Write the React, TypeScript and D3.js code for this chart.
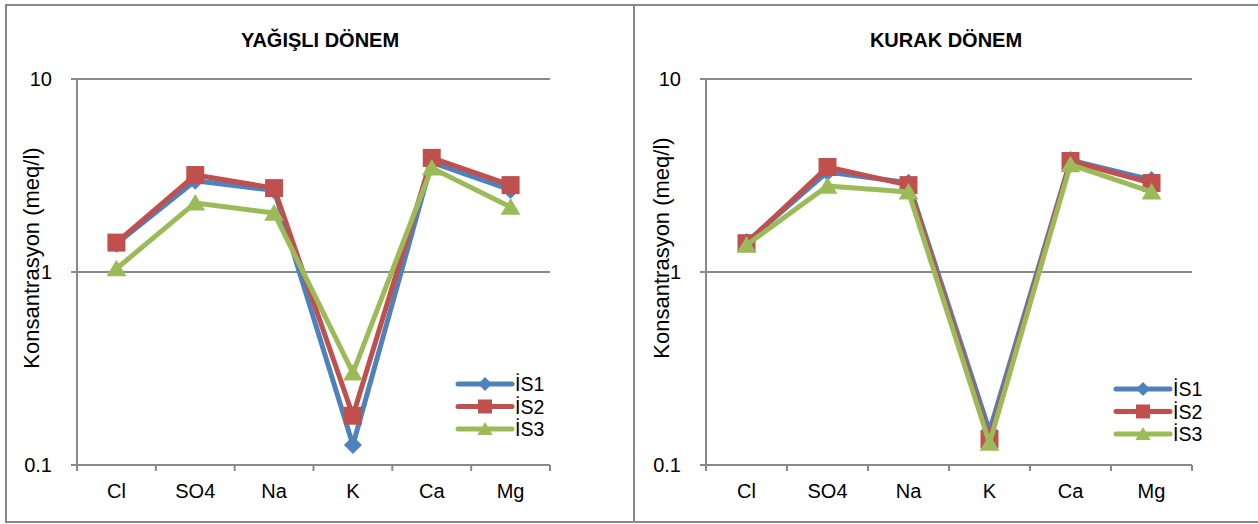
import React from 'react';
import * as d3 from 'd3';

const categories = ["Cl", "SO4", "Na", "K", "Ca", "Mg"];
const seriesNames = ["İS1", "İS2", "İS3"];
const seriesColors = ["#4F81BD", "#C0504D", "#9BBB59"];
const yTicks = [0.1, 1, 10];
const yTickLabels = ["0.1", "1", "10"];

// yağışlı dönem
const wetIS1 = [1.40, 2.97, 2.65, 0.127, 3.70, 2.66];
const wetIS2 = [1.42, 3.18, 2.72, 0.18, 3.90, 2.82];
const wetIS3 = [1.04, 2.28, 2.02, 0.30, 3.46, 2.17];

// kurak dönem
const dryIS1 = [1.43, 3.30, 2.90, 0.15, 3.80, 3.00];
const dryIS2 = [1.41, 3.50, 2.82, 0.136, 3.76, 2.89];
const dryIS3 = [1.38, 2.79, 2.60, 0.13, 3.60, 2.60];

const FONT = "'Liberation Sans', Arial, sans-serif";
const GRAY = "#898989";

function marker(kind, r) {
  if (kind === 0) return `M0,${-r}L${r},0L0,${r}L${-r},0Z`;
  if (kind === 1) return `M${-r},${-r}H${r}V${r}H${-r}Z`;
  return `M0,${-r}L${r * 1.1},${r * 0.85}L${-r * 1.1},${r * 0.85}Z`;
}

function Panel({ title, series, box, plot, titleX, yLabel, legend }) {
  const y = d3.scaleLog().domain([0.1, 10]).range([465, 79]);
  const x = d3.scaleBand().domain(categories).range([plot.left, plot.right]);
  const line = d3.line()
    .x((d, i) => x(categories[i]) + x.bandwidth() / 2)
    .y(d => y(d));
  const edges = d3.range(categories.length + 1).map(i => plot.left + i * x.bandwidth());

  return (
    <g>
      <rect x={box.x0} y={5} width={box.x1 - box.x0} height={517} fill="white" stroke={GRAY} strokeWidth={2} />
      <text x={titleX} y={47} textAnchor="middle" fontFamily={FONT} fontWeight="bold" fontSize={20}>{title}</text>

      {yTicks.map((t, i) => (
        <g key={i}>
          <line x1={plot.left - 6} x2={plot.right} y1={y(t)} y2={y(t)} stroke={GRAY} strokeWidth={2} />
          <text x={plot.left - 25} y={y(t)} dy="0.36em" textAnchor="end" fontFamily={FONT} fontSize={20}>{yTickLabels[i]}</text>
        </g>
      ))}
      <line x1={plot.left} x2={plot.left} y1={79} y2={465} stroke={GRAY} strokeWidth={2} />
      {edges.map((e, i) => (
        <line key={i} x1={e} x2={e} y1={465} y2={471} stroke={GRAY} strokeWidth={2} />
      ))}
      {categories.map(c => (
        <text key={c} x={x(c) + x.bandwidth() / 2} y={498} textAnchor="middle" fontFamily={FONT} fontSize={20}>{c}</text>
      ))}
      <text transform={`translate(${yLabel.x},${yLabel.y}) rotate(-90)`} textAnchor="middle" dy="0.35em"
        fontFamily={FONT} fontSize={22}>Konsantrasyon (meq/l)</text>

      {series.map((s, k) => (
        <g key={k}>
          <path d={line(s)} fill="none" stroke={seriesColors[k]} strokeWidth={5} strokeLinejoin="round" />
          {s.map((v, i) => (
            <path key={i} d={marker(k, 9)} fill={seriesColors[k]}
              transform={`translate(${x(categories[i]) + x.bandwidth() / 2},${y(v)})`} />
          ))}
        </g>
      ))}

      {seriesNames.map((n, k) => {
        const ly = legend.y + k * 22.5;
        return (
          <g key={n}>
            <line x1={legend.x} x2={legend.x + 54} y1={ly} y2={ly} stroke={seriesColors[k]} strokeWidth={5} strokeLinecap="round" />
            <path d={marker(k, 7)} fill={seriesColors[k]} transform={`translate(${legend.x + 27},${ly})`} />
            <text x={legend.x + 57} y={ly} dy="0.37em" fontFamily={FONT} fontSize={19.5}>{n}</text>
          </g>
        );
      })}
    </g>
  );
}

export default function App() {
  return (
    <svg width={1258} height={524} style={{ position: "absolute", left: 0, top: 0, background: "white" }}>
      <Panel title="YAĞIŞLI DÖNEM" series={[wetIS1, wetIS2, wetIS3]}
        box={{ x0: 6, x1: 634 }} plot={{ left: 77, right: 550 }} titleX={320}
        yLabel={{ x: 31, y: 258 }} legend={{ x: 458, y: 384 }} />
      <Panel title="KURAK DÖNEM" series={[dryIS1, dryIS2, dryIS3]}
        box={{ x0: 634, x1: 1260 }} plot={{ left: 706, right: 1192 }} titleX={946}
        yLabel={{ x: 661, y: 248 }} legend={{ x: 1116, y: 389 }} />
    </svg>
  );
}
